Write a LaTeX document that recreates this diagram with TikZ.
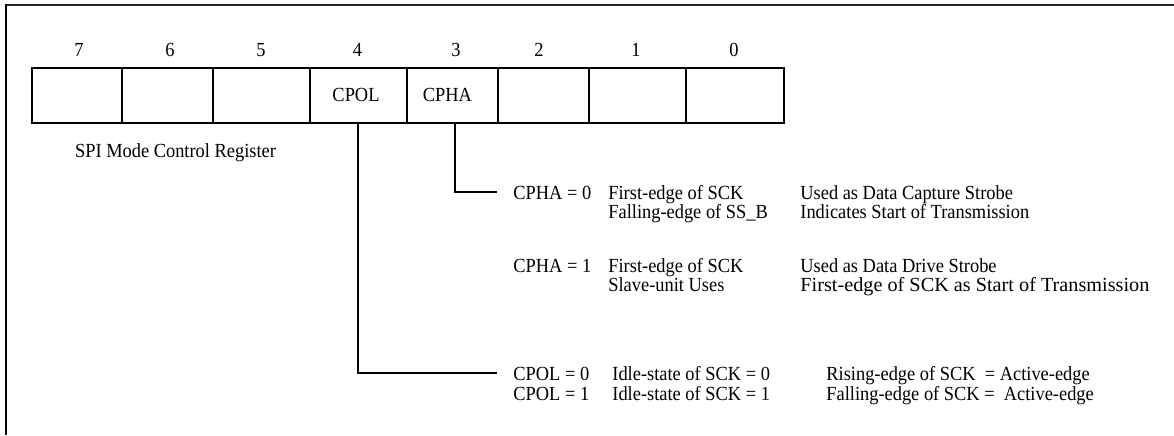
\documentclass[tikz,border=0pt]{standalone}
\usepackage{fontspec}
\setmainfont[FakeStretch=0.92]{Liberation Serif}
\begin{document}
\begin{tikzpicture}[x=0.5pt,y=-0.5pt,
  cell/.style={draw,line width=0.8pt,minimum height=27.5pt,inner sep=0pt,anchor=north west},
  bitno/.style={anchor=base,inner sep=0pt,font=\fontsize{10}{12}\selectfont},
  desc/.style={anchor=base west,inner sep=0pt,font=\fontsize{10}{12}\selectfont},
  link/.style={line width=0.8pt}]
\useasboundingbox (0,0) rectangle (1174,435);
% open frame: top and left edges only
\coordinate (ftl) at (6,4.5);
\coordinate (ftr) at (1174,4.5);
\coordinate (fbl) at (6,435);
\draw[line width=1pt,black!85] (ftl) -- (ftr);
\draw[line width=1.4pt] (6,4) -- (fbl);

% register cells, bit 7 down to bit 0
\node[cell,minimum width=45pt]   (c7) at (31,67)  {};
\node[cell,minimum width=45.5pt] (c6) at (121,67) {};
\node[cell,minimum width=48.5pt] (c5) at (212,67) {};
\node[cell,minimum width=48.5pt] (c4) at (309,67) {};
\node[cell,minimum width=45.5pt] (c3) at (406,67) {};
\node[cell,minimum width=45.5pt] (c2) at (497,67) {};
\node[cell,minimum width=48.5pt] (c1) at (588,67) {};
\node[cell,minimum width=49pt]   (c0) at (685,67) {};

\node[desc,anchor=base] (cpol) at (356,101.5) {CPOL};
\node[desc,anchor=base] (cpha) at (447.5,101.5) {CPHA};

% bit numbers
\foreach \n/\x in {7/79,6/170,5/261,4/357.5,3/456,2/539,1/636,0/734}
  \node[bitno] (n\n) at (\x,56) {\n};

\node[desc,anchor=base] (title) at (175.5,157) {SPI Mode Control Register};

% CPHA description block
\node[desc] (ha0)  at (513,199) {CPHA = 0};
\node[desc] (ha0a) at (608,199) {First-edge of SCK};
\node[desc] (ha0b) at (800,199) {Used as Data Capture Strobe};
\node[desc] (ha0c) at (608,218.5) {Falling-edge of SS\_B};
\node[desc] (ha0d) at (800,218.5) {Indicates Start of Transmission};
\node[desc] (ha1)  at (513,272) {CPHA = 1};
\node[desc] (ha1a) at (608,272) {First-edge of SCK};
\node[desc] (ha1b) at (800,272) {Used as Data Drive Strobe};
\node[desc] (ha1c) at (608,291.5) {Slave-unit Uses};
\node[desc,xscale=1.1,transform shape] (ha1d) at (800,291.5) {First-edge of SCK as Start of Transmission};

% CPOL description block
\node[desc] (po0)  at (513,380.5) {CPOL = 0};
\node[desc] (po0a) at (612,380.5) {Idle-state of SCK = 0};
\node[desc] (po0b) at (826,380.5) {Rising-edge of SCK\ \ = Active-edge};
\node[desc] (po1)  at (513,400) {CPOL = 1};
\node[desc] (po1a) at (612,400) {Idle-state of SCK = 1};
\node[desc] (po1b) at (826,400) {Falling-edge of SCK =\ \ Active-edge};

% leader lines from the bit fields to their descriptions
\coordinate (haend) at (497,191.7);
\coordinate (poend) at (497,372.7);
\draw[link] (c3.south -| 455,0) |- (haend);
\draw[link] (c4.south -| 358,0) |- (poend);
\end{tikzpicture}
\end{document}
